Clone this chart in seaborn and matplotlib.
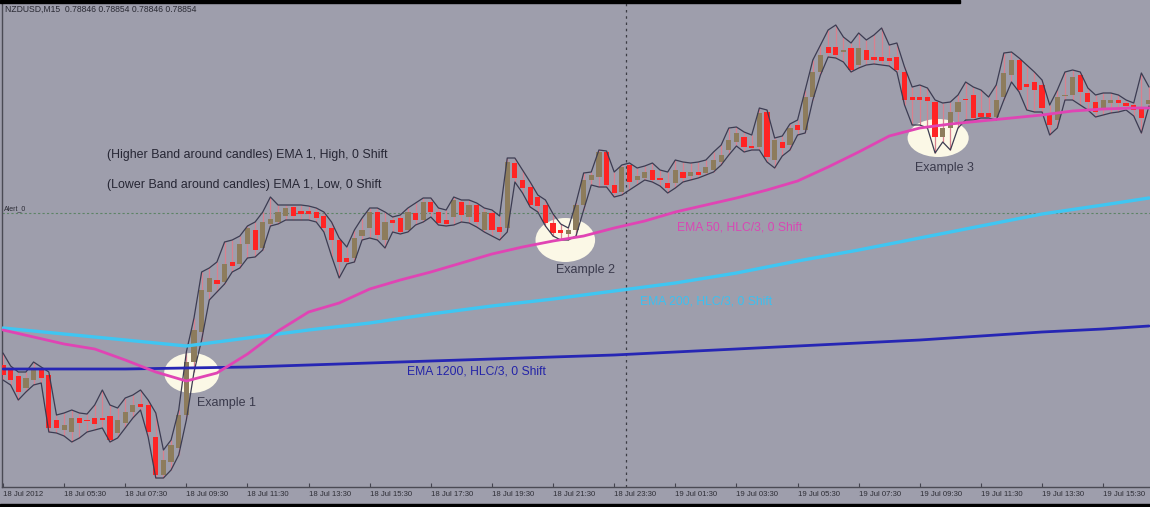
import numpy as np
import matplotlib
matplotlib.use("Agg")
import matplotlib.pyplot as plt
import seaborn as sns
from matplotlib.patches import Ellipse, Rectangle

# NZDUSD M15 candles (prices)
opens = [0.77675, 0.77650, 0.77620, 0.77560, 0.77600, 0.77650, 0.77625, 0.77400, 0.77350, 0.77340,
         0.77410, 0.77400, 0.77410, 0.77410, 0.77420, 0.77335, 0.77385, 0.77440, 0.77480, 0.77475,
         0.77315, 0.77125, 0.77190, 0.77260, 0.77425, 0.77690, 0.77840, 0.78040, 0.78100, 0.78090,
         0.78190, 0.78180, 0.78280, 0.78350, 0.78260, 0.78380, 0.78390, 0.78420, 0.78465, 0.78445,
         0.78445, 0.78440, 0.78420, 0.78360, 0.78300, 0.78210, 0.78210, 0.78320, 0.78360, 0.78440,
         0.78300, 0.78400, 0.78410, 0.78350, 0.78435, 0.78400, 0.78490, 0.78440, 0.78400, 0.78415,
         0.78490, 0.78415, 0.78475, 0.78350, 0.78435, 0.78365, 0.78360, 0.78685, 0.78600, 0.78565,
         0.78515, 0.78475, 0.78385, 0.78350, 0.78330, 0.78350, 0.78475, 0.78600, 0.78615, 0.78740,
         0.78575, 0.78540, 0.78675, 0.78600, 0.78610, 0.78650, 0.78610, 0.78585, 0.78585, 0.78640,
         0.78620, 0.78640, 0.78635, 0.78650, 0.78690, 0.78750, 0.78790, 0.78815, 0.78770, 0.78765,
         0.78940, 0.78700, 0.78790, 0.78775, 0.78875, 0.78850, 0.79015, 0.79140, 0.79265, 0.79265,
         0.79240, 0.79260, 0.79175, 0.79250, 0.79215, 0.79215, 0.79210, 0.79215, 0.79140, 0.79015,
         0.79015, 0.79015, 0.78990, 0.78815, 0.78860, 0.78940, 0.79005, 0.79025, 0.78935, 0.78935,
         0.78915, 0.79015, 0.79125, 0.79200, 0.79080, 0.79090, 0.79075, 0.78935, 0.78900, 0.79020,
         0.79025, 0.79125, 0.79035, 0.78990, 0.78950, 0.78985, 0.79000, 0.78985, 0.78975, 0.78965,
         0.78980]
highs = [0.77735, 0.77670, 0.77640, 0.77640, 0.77690, 0.77665, 0.77640, 0.77425, 0.77435, 0.77450,
         0.77435, 0.77430, 0.77475, 0.77550, 0.77475, 0.77460, 0.77510, 0.77525, 0.77550, 0.77500,
         0.77435, 0.77250, 0.77300, 0.77450, 0.77740, 0.77910, 0.78140, 0.78160, 0.78190, 0.78290,
         0.78300, 0.78320, 0.78370, 0.78390, 0.78440, 0.78515, 0.78475, 0.78475, 0.78475, 0.78475,
         0.78470, 0.78460, 0.78440, 0.78390, 0.78310, 0.78265, 0.78350, 0.78410, 0.78460, 0.78460,
         0.78440, 0.78415, 0.78425, 0.78460, 0.78485, 0.78510, 0.78510, 0.78460, 0.78450, 0.78515,
         0.78500, 0.78500, 0.78485, 0.78460, 0.78450, 0.78420, 0.78710, 0.78710, 0.78650, 0.78590,
         0.78525, 0.78500, 0.78430, 0.78380, 0.78360, 0.78485, 0.78635, 0.78640, 0.78750, 0.78745,
         0.78640, 0.78675, 0.78685, 0.78660, 0.78670, 0.78685, 0.78650, 0.78640, 0.78700, 0.78690,
         0.78685, 0.78690, 0.78700, 0.78740, 0.78775, 0.78860, 0.78865, 0.78840, 0.78825, 0.78960,
         0.78950, 0.78810, 0.78820, 0.78880, 0.78900, 0.79050, 0.79200, 0.79275, 0.79350, 0.79375,
         0.79315, 0.79285, 0.79335, 0.79300, 0.79325, 0.79360, 0.79275, 0.79285, 0.79165, 0.79065,
         0.79075, 0.79060, 0.79000, 0.78985, 0.78990, 0.79025, 0.79090, 0.79065, 0.79050, 0.79015,
         0.79075, 0.79235, 0.79240, 0.79210, 0.79175, 0.79140, 0.79100, 0.78975, 0.79050, 0.79140,
         0.79150, 0.79140, 0.79060, 0.79025, 0.79035, 0.79035, 0.79025, 0.79000, 0.78985, 0.79135,
         0.79065]
lows = [0.77600, 0.77575, 0.77500, 0.77540, 0.77575, 0.77585, 0.77340, 0.77335, 0.77320, 0.77290,
        0.77310, 0.77340, 0.77350, 0.77360, 0.77290, 0.77310, 0.77360, 0.77410, 0.77450, 0.77315,
        0.77110, 0.77110, 0.77150, 0.77225, 0.77400, 0.77640, 0.77800, 0.78000, 0.78040, 0.78080,
        0.78140, 0.78160, 0.78210, 0.78215, 0.78250, 0.78370, 0.78380, 0.78400, 0.78400, 0.78400,
        0.78400, 0.78390, 0.78340, 0.78220, 0.78110, 0.78180, 0.78190, 0.78300, 0.78310, 0.78300,
        0.78260, 0.78340, 0.78330, 0.78340, 0.78375, 0.78390, 0.78415, 0.78375, 0.78370, 0.78375,
        0.78390, 0.78385, 0.78365, 0.78340, 0.78320, 0.78300, 0.78340, 0.78590, 0.78535, 0.78465,
        0.78440, 0.78370, 0.78320, 0.78300, 0.78300, 0.78320, 0.78450, 0.78575, 0.78565, 0.78565,
        0.78515, 0.78525, 0.78550, 0.78575, 0.78600, 0.78590, 0.78570, 0.78535, 0.78560, 0.78590,
        0.78600, 0.78610, 0.78625, 0.78640, 0.78675, 0.78725, 0.78770, 0.78740, 0.78750, 0.78750,
        0.78690, 0.78660, 0.78720, 0.78750, 0.78825, 0.78835, 0.79000, 0.79125, 0.79215, 0.79210,
        0.79190, 0.79140, 0.79160, 0.79175, 0.79180, 0.79175, 0.79170, 0.79140, 0.78975, 0.78875,
        0.78875, 0.78860, 0.78735, 0.78790, 0.78750, 0.78860, 0.78900, 0.78900, 0.78910, 0.78910,
        0.78900, 0.79000, 0.79090, 0.79040, 0.78950, 0.78940, 0.78940, 0.78825, 0.78860, 0.79000,
        0.79000, 0.78975, 0.78950, 0.78915, 0.78925, 0.78935, 0.78940, 0.78950, 0.78920, 0.78835,
        0.78970]
closes = [0.77625, 0.77600, 0.77540, 0.77610, 0.77660, 0.77610, 0.77360, 0.77360, 0.77375, 0.77410,
          0.77385, 0.77395, 0.77380, 0.77400, 0.77300, 0.77400, 0.77440, 0.77475, 0.77465, 0.77340,
          0.77125, 0.77200, 0.77275, 0.77425, 0.77690, 0.77850, 0.78050, 0.78110, 0.78080, 0.78180,
          0.78170, 0.78280, 0.78360, 0.78250, 0.78390, 0.78405, 0.78440, 0.78460, 0.78420, 0.78430,
          0.78430, 0.78410, 0.78360, 0.78300, 0.78190, 0.78190, 0.78310, 0.78350, 0.78440, 0.78325,
          0.78390, 0.78385, 0.78340, 0.78440, 0.78400, 0.78490, 0.78440, 0.78385, 0.78380, 0.78500,
          0.78425, 0.78475, 0.78390, 0.78440, 0.78350, 0.78340, 0.78690, 0.78610, 0.78560, 0.78475,
          0.78470, 0.78385, 0.78335, 0.78335, 0.78350, 0.78475, 0.78600, 0.78625, 0.78740, 0.78575,
          0.78535, 0.78665, 0.78590, 0.78620, 0.78640, 0.78600, 0.78600, 0.78560, 0.78650, 0.78610,
          0.78640, 0.78625, 0.78665, 0.78700, 0.78725, 0.78800, 0.78835, 0.78765, 0.78760, 0.78935,
          0.78715, 0.78800, 0.78760, 0.78860, 0.78850, 0.79015, 0.79140, 0.79225, 0.79235, 0.79225,
          0.79250, 0.79150, 0.79260, 0.79200, 0.79200, 0.79195, 0.79195, 0.79150, 0.79000, 0.79000,
          0.79000, 0.78995, 0.78815, 0.78860, 0.78940, 0.78990, 0.79000, 0.78910, 0.78915, 0.78915,
          0.79000, 0.79135, 0.79200, 0.79050, 0.79065, 0.79050, 0.78960, 0.78875, 0.79015, 0.79025,
          0.79115, 0.79040, 0.78990, 0.78940, 0.79000, 0.79000, 0.78985, 0.78970, 0.78950, 0.78910,
          0.79000]

# moving averages, read at every 4th / 8th bar
ema50_bars = [0, 4, 8, 12, 16, 20, 24, 28, 32, 36, 40, 44, 48, 52, 56, 60, 64, 68, 72, 76,
              80, 84, 88, 92, 96, 100, 104, 108, 112, 116, 120, 124, 128, 132, 136, 140, 144, 148, 150]
ema50 = [0.77850, 0.77815, 0.77780, 0.77755, 0.77700, 0.77640, 0.77595, 0.77635, 0.77730, 0.77845,
         0.77940, 0.77985, 0.78055, 0.78100, 0.78140, 0.78185, 0.78230, 0.78265, 0.78295, 0.78320,
         0.78360, 0.78395, 0.78440, 0.78475, 0.78510, 0.78550, 0.78595, 0.78665, 0.78740, 0.78820,
         0.78860, 0.78880, 0.78895, 0.78910, 0.78925, 0.78945, 0.78955, 0.78960, 0.78960]
slow_bars = [0, 8, 16, 24, 32, 40, 48, 56, 64, 72, 80, 88, 96, 104, 112, 120, 128, 136, 144, 150]
ema200 = [0.77860, 0.77830, 0.77800, 0.77770, 0.77810, 0.77850, 0.77885, 0.77930, 0.77970, 0.78005,
          0.78045, 0.78085, 0.78135, 0.78195, 0.78250, 0.78310, 0.78370, 0.78430, 0.78475, 0.78510]
ema1200 = [0.77655, 0.77655, 0.77655, 0.77660, 0.77665, 0.77675, 0.77685, 0.77695, 0.77705, 0.77715,
           0.77725, 0.77740, 0.77755, 0.77770, 0.77785, 0.77800, 0.77820, 0.77840, 0.77855, 0.77870]

alert_level = 0.78435
day_break_bar = 82
tick_bars = list(range(0, 145, 8))
tick_labels = ["18 Jul 2012", "18 Jul 05:30", "18 Jul 07:30", "18 Jul 09:30", "18 Jul 11:30",
               "18 Jul 13:30", "18 Jul 15:30", "18 Jul 17:30", "18 Jul 19:30", "18 Jul 21:30",
               "18 Jul 23:30", "19 Jul 01:30", "19 Jul 03:30", "19 Jul 05:30", "19 Jul 07:30",
               "19 Jul 09:30", "19 Jul 11:30", "19 Jul 13:30", "19 Jul 15:30"]
example_names = ["Example 1", "Example 2", "Example 3"]
example_bars = [24.7, 73.6, 122.4]
example_prices = [0.77635, 0.78300, 0.78810]

BG = "#9e9eac"
BULL = "#8d7c5c"
BEAR = "#ff2424"
WICK = "#d9808e"
BAND = "#3c3c52"

sns.set_theme(style="white")
plt.rcParams["font.family"] = ["Liberation Sans", "DejaVu Sans"]

fig = plt.figure(figsize=(11.5, 5.07), dpi=100, facecolor=BG)
ax = fig.add_axes([2 / 1150, 20 / 507, 1148 / 1150, 484 / 507])
ax.set_facecolor(BG)

o = np.array(opens)
h = np.array(highs)
l = np.array(lows)
c = np.array(closes)
idx = np.arange(len(o))
up = c >= o

# highlight ellipses and their labels
label_dx = [0.7, -1.2, -3.0]
ell_w = [7.2, 7.8, 8.0]
ell_h = [0.0020, 0.0022, 0.0019]
for name, bx, py, dx, ew, eh in zip(example_names, example_bars, example_prices, label_dx, ell_w, ell_h):
    ax.add_patch(Ellipse((bx, py), ew, eh, facecolor="#fbf8e6", edgecolor="none", zorder=1))
    ax.text(bx + dx, py - 0.0015, name, fontsize=9, color="#3a3a4c", ha="left", va="center", zorder=8)

ax.axhline(alert_level, color="#5d8466", lw=0.8, ls=(0, (2, 2)), zorder=1.5)
ax.axvline(day_break_bar - 0.5, color="#3c3c44", lw=0.9, ls=(0, (2, 3)), zorder=1.5)

# candles
ax.vlines(idx, l, h, color=WICK, lw=0.9, zorder=3)
body = np.maximum(np.abs(c - o), 0.00003)
ax.bar(idx[up], body[up], bottom=o[up], width=0.68, color=BULL, linewidth=0, zorder=4)
ax.bar(idx[~up], body[~up], bottom=c[~up], width=0.68, color=BEAR, linewidth=0, zorder=4)

# bands around candles
sns.lineplot(x=idx, y=h, color=BAND, lw=0.9, ax=ax, zorder=5)
sns.lineplot(x=idx, y=l, color=BAND, lw=0.9, ax=ax, zorder=5)

# moving averages
sns.lineplot(x=slow_bars, y=ema1200, color="#2626b4", lw=2, ax=ax, zorder=6)
sns.lineplot(x=slow_bars, y=ema200, color="#3fc6f2", lw=2.4, ax=ax, zorder=6)
sns.lineplot(x=ema50_bars, y=ema50, color="#e044b4", lw=2, ax=ax, zorder=6)

ax.set_xlim(-0.13, 150.13)
ax.set_ylim(0.77065, 0.79485)
ax.set_yticks([])
ax.set_xticks(tick_bars)
ax.set_xticklabels(tick_labels, ha="left", fontsize=5.6, color="#2e2e36")
ax.tick_params(axis="x", direction="in", length=3, width=0.8, pad=3, color="#444450", bottom=True)
ax.set_xlabel("")
ax.set_ylabel("")
for side in ["top", "right"]:
    ax.spines[side].set_visible(False)
for side in ["bottom", "left"]:
    ax.spines[side].set_color("#4a4a54")
    ax.spines[side].set_linewidth(1)

# labels
ax.text(0.003, 0.987, "NZDUSD,M15  0.78846 0.78854 0.78846 0.78854", transform=ax.transAxes,
        fontsize=6.2, color="#2a2a34", ha="left", va="center")
ax.text(13.6, 0.78725, "(Higher Band around candles) EMA 1, High, 0 Shift", fontsize=8.9,
        color="#262634", ha="left", va="center")
ax.text(13.6, 0.78575, "(Lower Band around candles) EMA 1, Low, 0 Shift", fontsize=8.9,
        color="#262634", ha="left", va="center")
ax.text(0.1, 0.78455, "Alert_0", fontsize=5, color="#2a2a34", ha="left", va="center")
ax.text(88.2, 0.78360, "EMA 50, HLC/3, 0 Shift", fontsize=8.7, color="#d848b4", ha="left", va="center")
ax.text(83.4, 0.77990, "EMA 200, HLC/3, 0 Shift", fontsize=8.7, color="#3cc0f0", ha="left", va="center")
ax.text(52.9, 0.77640, "EMA 1200, HLC/3, 0 Shift", fontsize=8.7, color="#2424a8", ha="left", va="center")

fig.patches.append(Rectangle((0, 1 - 3 / 507), 960 / 1150, 3 / 507, transform=fig.transFigure,
                             color="black", zorder=10))
fig.patches.append(Rectangle((0, 0), 1, 3 / 507, transform=fig.transFigure, color="black", zorder=10))

fig.savefig("out.png", dpi=100, facecolor=BG)
